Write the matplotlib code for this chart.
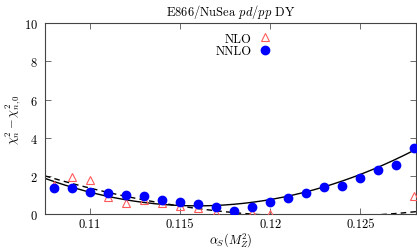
import numpy as np
import matplotlib
matplotlib.use("Agg")
import matplotlib.pyplot as plt

plt.rcParams['font.family'] = 'serif'
plt.rcParams['font.serif'] = ['cmr10', 'DejaVu Serif']
plt.rcParams['mathtext.fontset'] = 'cm'
plt.rcParams['axes.formatter.use_mathtext'] = True

# NNLO data
alpha_nnlo = [0.108, 0.109, 0.110, 0.111, 0.112, 0.113, 0.114, 0.115, 0.116, 0.117,
              0.118, 0.119, 0.120, 0.121, 0.122, 0.123, 0.124, 0.125, 0.126, 0.127, 0.128]
chi_nnlo = [1.35, 1.35, 1.17, 1.08, 1.00, 0.94, 0.75, 0.66, 0.52, 0.38,
            0.16, 0.38, 0.64, 0.85, 1.08, 1.43, 1.49, 1.88, 2.32, 2.55, 3.44]

# NLO data (visible points)
alpha_nlo = [0.108, 0.109, 0.110, 0.111, 0.112, 0.113, 0.114, 0.115, 0.116, 0.117,
             0.118, 0.119, 0.120, 0.128]
chi_nlo = [1.50, 1.92, 1.80, 0.87, 0.58, 0.72, 0.57, 0.45, 0.30, 0.05,
           0.02, 0.05, 0.02, 0.96]

# Quadratic fit parameters: y = c + b*(x-x0) + a*(x-x0)^2
fit_nnlo = dict(x0=0.1169, c=0.45, b=38.0, a=20113.0)
fit_nlo = dict(x0=0.1159, c=0.30, b=-125.55, a=9146.0)

xlim = (0.1075, 0.1281)
ylim = (0, 10)

fig = plt.figure(figsize=(4.17, 2.51), dpi=100)
ax = fig.add_axes([0.108, 0.143, 0.890, 0.761])

xs = np.linspace(xlim[0], xlim[1], 300)
def quad(p, x):
    d = x - p['x0']
    return p['c'] + p['b'] * d + p['a'] * d * d

ax.plot(xs, quad(fit_nlo, xs), color='black', lw=1.0, ls=(0, (4, 3)), zorder=2)
ax.plot(xs, quad(fit_nnlo, xs), color='black', lw=1.0, zorder=2)

ax.plot(alpha_nlo, chi_nlo, ls='none', marker='^', ms=6, mfc='none',
        mec='#ff5a5a', mew=0.8, label='NLO', zorder=3)
ax.plot(alpha_nnlo, chi_nnlo, ls='none', marker='o', ms=6, mfc='#0000ff',
        mec='#0000ff', label='NNLO', zorder=4)

ax.set_xlim(*xlim)
ax.set_ylim(*ylim)
ax.set_xticks([0.11, 0.115, 0.12, 0.125])
ax.set_xticklabels(['0.11', '0.115', '0.12', '0.125'])
ax.set_yticks([0, 2, 4, 6, 8, 10])
ax.tick_params(direction='in', top=True, right=True, labelsize=9, length=4,
               width=0.6, color='#555555', pad=5)
ax.tick_params(axis='x', pad=3)
for s in ax.spines.values():
    s.set_color('#444444')
    s.set_linewidth(0.8)

ax.set_xlabel(r'$\alpha_S(M_Z^2)$', fontsize=9, labelpad=0)
ax.set_ylabel(r'$\chi^2_n - \chi^2_{n,0}$', fontsize=9, labelpad=1)
ax.set_title(r'E866/NuSea $pd/pp$ DY', fontsize=9, pad=6)

leg = ax.legend(loc='upper center', bbox_to_anchor=(0.535, 1.0), frameon=False,
                markerfirst=False, fontsize=9, handlelength=1.0,
                handletextpad=0.6, labelspacing=0.05, borderpad=0.25)
for t in leg.get_texts():
    t.set_ha('right')

fig.savefig('out.png', dpi=100)
